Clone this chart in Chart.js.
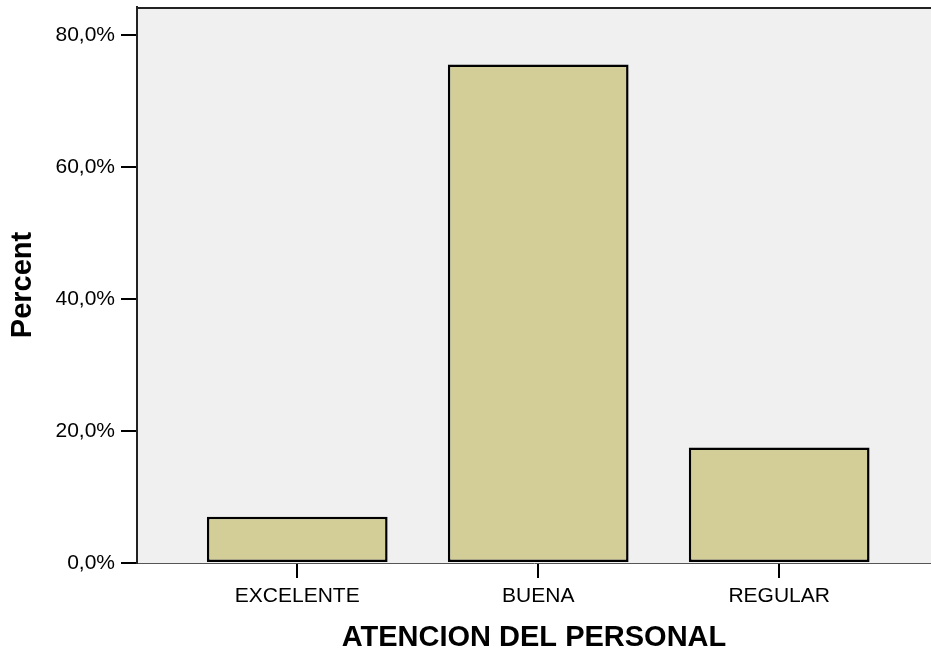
<!DOCTYPE html>
<html>
<head>
<meta charset="utf-8">
<script src="https://cdn.jsdelivr.net/npm/chart.js@4/dist/chart.umd.min.js"></script>
<style>
  html, body { margin: 0; padding: 0; background: #fff; overflow: hidden; }
  #wrap { width: 931px; height: 655px; }
</style>
</head>
<body>
<div id="wrap"><canvas id="myChart"></canvas></div>
<script>
'use strict';
// data
const categories = ['EXCELENTE', 'BUENA', 'REGULAR'];
const positions = [1, 2, 3];
const percents = [7.0, 75.5, 17.5];
const yTicks = [0, 20, 40, 60, 80];

const font = 'Arial, "Liberation Sans", sans-serif';

// gray plot box with the top border line
const plotBox = {
    id: 'plotBox',
    beforeDraw(chart) {
        const a = chart.chartArea, ctx = chart.ctx;
        ctx.save();
        ctx.fillStyle = '#f0f0f0';
        ctx.fillRect(a.left, a.top, a.right - a.left, a.bottom - a.top);
        ctx.restore();
    },
    afterDraw(chart) {
        const a = chart.ctx, c = chart.chartArea;
        a.save();
        a.strokeStyle = '#222';
        a.lineWidth = 2;
        a.beginPath();
        a.moveTo(c.left - 1, c.top + 1);
        a.lineTo(c.right, c.top + 1);
        a.stroke();
        a.restore();
    }
};

const data = {
    datasets: [{
        data: positions.map((p, i) => ({ x: p, y: percents[i] })),
        backgroundColor: '#d3ce97',
        borderColor: '#000',
        borderWidth: 2.5,
        borderSkipped: false,
        barPercentage: 0.75,
        categoryPercentage: 1
    }]
};

const config = {
    type: 'bar',
    data: data,
    plugins: [plotBox],
    options: {
        responsive: true,
        maintainAspectRatio: false,
        animation: false,
        layout: { padding: { top: 7, left: 0, right: 0, bottom: 0 } },
        plugins: {
            legend: { display: false },
            tooltip: { enabled: false }
        },
        scales: {
            x: {
                type: 'linear',
                offset: false,
                min: 0.335,
                max: 3.63,
                afterBuildTicks: (s) => { s.ticks = positions.map((v) => ({ value: v })); },
                afterFit: (s) => { s.height = 92; s.paddingLeft = 0; s.paddingRight = 0; },
                ticks: {
                    autoSkip: false,
                    maxRotation: 0,
                    padding: 6,
                    color: '#000',
                    font: { family: font, size: 21 },
                    callback: (v) => categories[positions.indexOf(v)] || ''
                },
                grid: {
                    offset: false,
                    drawOnChartArea: false,
                    tickLength: 15,
                    tickColor: '#000',
                    lineWidth: 2
                },
                border: { color: '#555', width: 1 },
                title: {
                    display: true,
                    text: 'ATENCION DEL PERSONAL',
                    color: '#000',
                    font: { family: font, size: 29, weight: 'bold' },
                    padding: { top: 0, bottom: 0 }
                }
            },
            y: {
                min: 0,
                max: 84.2,
                afterBuildTicks: (s) => { s.ticks = yTicks.map((v) => ({ value: v })); },
                afterFit: (s) => { s.width = 137; s.paddingTop = 0; s.paddingBottom = 0; },
                ticks: {
                    padding: 6,
                    color: '#000',
                    font: { family: font, size: 21 },
                    callback: (v) => v.toFixed(1).replace('.', ',') + '%'
                },
                grid: {
                    drawOnChartArea: false,
                    tickLength: 16,
                    tickColor: '#000',
                    lineWidth: 2
                },
                border: { color: '#222', width: 2 },
                title: {
                    display: true,
                    text: 'Percent',
                    color: '#000',
                    font: { family: font, size: 29, weight: 'bold' },
                    padding: { top: 6, bottom: 0 }
                }
            }
        }
    }
};
const myChart = new Chart(document.getElementById('myChart'), config);
</script>
</body>
</html>
